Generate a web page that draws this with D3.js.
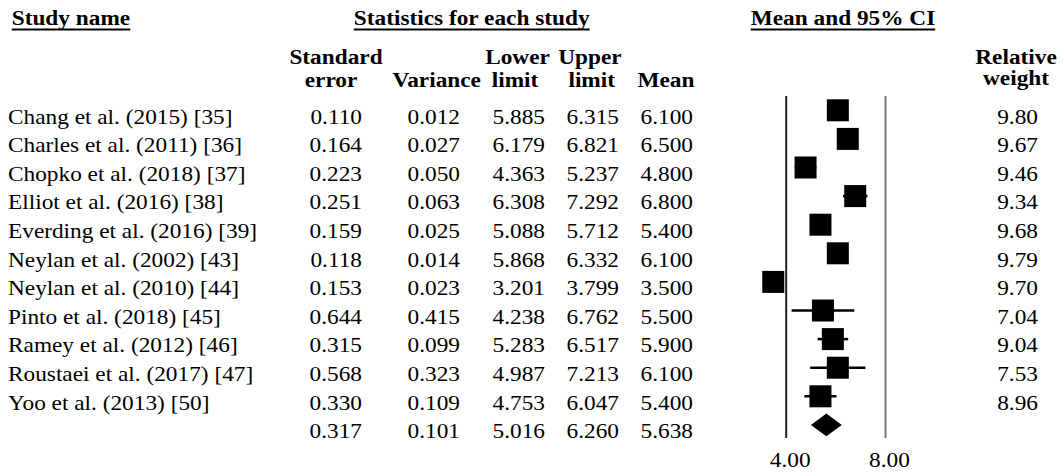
<!DOCTYPE html>
<html>
<head>
<meta charset="utf-8">
<script src="https://cdn.jsdelivr.net/npm/d3@7"></script>
<style>
  html, body { margin: 0; padding: 0; background: #fff; }
</style>
</head>
<body>
<script>
// ---- data ----
const studies = [
  "Chang et al. (2015) [35]",
  "Charles et al. (2011) [36]",
  "Chopko et al. (2018) [37]",
  "Elliot et al. (2016) [38]",
  "Everding et al. (2016) [39]",
  "Neylan et al. (2002) [43]",
  "Neylan et al. (2010) [44]",
  "Pinto et al. (2018) [45]",
  "Ramey et al. (2012) [46]",
  "Roustaei et al. (2017) [47]",
  "Yoo et al. (2013) [50]"
];
const stdError = [0.110, 0.164, 0.223, 0.251, 0.159, 0.118, 0.153, 0.644, 0.315, 0.568, 0.330];
const variance = [0.012, 0.027, 0.050, 0.063, 0.025, 0.014, 0.023, 0.415, 0.099, 0.323, 0.109];
const lowerLimit = [5.885, 6.179, 4.363, 6.308, 5.088, 5.868, 3.201, 4.238, 5.283, 4.987, 4.753];
const upperLimit = [6.315, 6.821, 5.237, 7.292, 5.712, 6.332, 3.799, 6.762, 6.517, 7.213, 6.047];
const means = [6.100, 6.500, 4.800, 6.800, 5.400, 6.100, 3.500, 5.500, 5.900, 6.100, 5.400];
const relWeight = [9.80, 9.67, 9.46, 9.34, 9.68, 9.79, 9.70, 7.04, 9.04, 7.53, 8.96];
const summarySE = 0.317, summaryVar = 0.101, summaryLower = 5.016, summaryUpper = 6.260, summaryMean = 5.638;
const axisTicks = [4, 8];

// ---- layout ----
const W = 1063, H = 474;
const FS = 21, SX = 1.11;
const FONT = "'Liberation Serif', Tinos, 'Times New Roman', serif";
const svg = d3.select("body").append("svg").attr("width", W).attr("height", H);

const x = d3.scaleLinear().domain([4, 8]).range([785.7, 885]);
const y = d3.scalePoint().domain(d3.range(studies.length + 1)).range([110.3, 424.9]);
const baseOff = 13.2;

function label(x0, y0, str, anchor, bold) {
  return svg.append("text")
    .attr("transform", `translate(${x0},${y0}) scale(${SX},1)`)
    .attr("text-anchor", anchor)
    .attr("font-family", FONT)
    .attr("font-size", FS)
    .attr("font-weight", bold ? 700 : 400)
    .attr("fill", "#000")
    .text(str);
}
function underlined(x0, y0, str, anchor) {
  const t = label(x0, y0, str, anchor, true);
  const bb = t.node().getBBox();
  const w = bb.width * SX;
  let x1 = anchor === "middle" ? x0 - w / 2 : (anchor === "end" ? x0 - w : x0);
  svg.append("line").attr("x1", x1).attr("x2", x1 + w)
    .attr("y1", y0 + 4.5).attr("y2", y0 + 4.5)
    .attr("stroke", "#000").attr("stroke-width", 2);
}

// Top headers
underlined(11.7, 25, "Study name", "start");
underlined(471.7, 25, "Statistics for each study", "middle");
underlined(843, 25, "Mean and 95% CI", "middle");

// Column headers
label(336, 64, "Standard", "middle", true);
label(331, 86.5, "error", "middle", true);
label(436.7, 86.5, "Variance", "middle", true);
label(517.5, 64, "Lower", "middle", true);
label(515, 86.5, "limit", "middle", true);
label(590, 64, "Upper", "middle", true);
label(591.7, 86.5, "limit", "middle", true);
label(666, 86.5, "Mean", "middle", true);
label(1016, 63.5, "Relative", "middle", true);
label(1016, 85, "weight", "middle", true);

// Table rows
const fmt3 = d3.format(".3f"), fmt2 = d3.format(".2f");
studies.forEach((s, i) => {
  const by = y(i) + baseOff;
  label(8, by, s, "start", false);
  label(362, by, fmt3(stdError[i]), "end", false);
  label(460, by, fmt3(variance[i]), "end", false);
  label(545, by, fmt3(lowerLimit[i]), "end", false);
  label(619, by, fmt3(upperLimit[i]), "end", false);
  label(693, by, fmt3(means[i]), "end", false);
  label(1038, by, fmt2(relWeight[i]), "end", false);
});
const sIdx = studies.length;
const sby = y(sIdx) + baseOff;
label(362, sby, fmt3(summarySE), "end", false);
label(460, sby, fmt3(summaryVar), "end", false);
label(545, sby, fmt3(summaryLower), "end", false);
label(619, sby, fmt3(summaryUpper), "end", false);
label(693, sby, fmt3(summaryMean), "end", false);

// Axis with full-height reference lines
const axisY = 438, topY = 96;
const axisG = svg.append("g").attr("transform", `translate(0,${axisY})`)
  .call(d3.axisBottom(x).tickValues(axisTicks).tickSize(-(axisY - topY)).tickFormat(fmt2));
axisG.attr("font-family", FONT).attr("font-size", FS);
axisG.select(".domain").remove();
axisG.selectAll(".tick line")
  .attr("stroke", (d, i) => i === 0 ? "#222" : "#777")
  .attr("stroke-width", 2);
axisG.selectAll(".tick text")
  .attr("y", null).attr("dy", null)
  .attr("transform", `translate(4,28.7) scale(${SX},1)`)
  .attr("fill", "#000");

// Forest marks
const sq = 22;
const marks = svg.append("g");
studies.forEach((s, i) => {
  marks.append("line")
    .attr("x1", x(lowerLimit[i])).attr("x2", x(upperLimit[i]))
    .attr("y1", y(i)).attr("y2", y(i))
    .attr("stroke", "#000").attr("stroke-width", 2.5);
  marks.append("rect")
    .attr("x", x(means[i]) - sq / 2).attr("y", y(i) - sq / 2)
    .attr("width", sq).attr("height", sq)
    .attr("fill", "#000");
});
// Summary diamond
const dy = y(sIdx), dh = 11.3;
marks.append("path")
  .attr("d", `M${x(summaryLower)},${dy} L${x(summaryMean)},${dy - dh} L${x(summaryUpper)},${dy} L${x(summaryMean)},${dy + dh} Z`)
  .attr("fill", "#000");
</script>
</body>
</html>
